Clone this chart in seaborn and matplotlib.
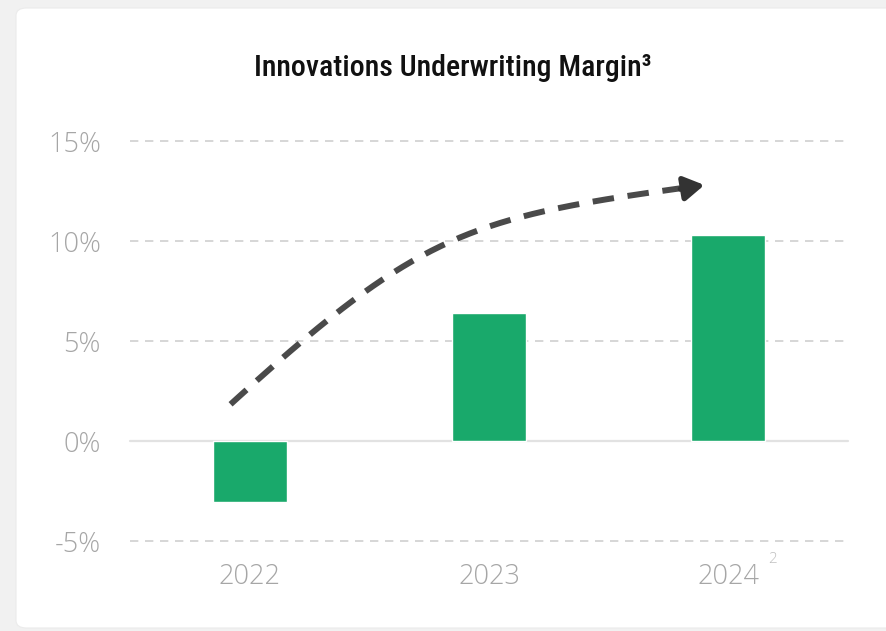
import numpy as np
import pandas as pd
import seaborn as sns
import matplotlib
matplotlib.use("Agg")
import matplotlib.pyplot as plt
from matplotlib import font_manager
from matplotlib.patches import FancyBboxPatch
from matplotlib.ticker import FixedLocator

# Underwriting margin by year (percent)
years = ["2022", "2023", "2024"]
margin = [-3.05, 6.4, 10.3]
y_ticks = [-5, 0, 5, 10, 15]
y_tick_labels = ["-5%", "0%", "5%", "10%", "15%"]
title = "Innovations Underwriting Margin\u00b3"
footnote_2024 = "2"

GREEN = "#19a96b"
LABEL_GRAY = "#a6a6a6"
GRID_GRAY = "#cfcfcf"
ARROW_GRAY = "#4a4a4a"

sns.set_theme(style="white")
available = {f.name for f in font_manager.fontManager.ttflist}
body_font = "Open Sans" if "Open Sans" in available else "DejaVu Sans"
title_font = next((f for f in ["Liberation Sans Narrow", "Roboto Condensed", "DejaVu Sans"]
                   if f in available), "DejaVu Sans")
plt.rcParams["font.family"] = [body_font, "DejaVu Sans"]

fig = plt.figure(figsize=(8.86, 6.31), dpi=100)
fig.patch.set_facecolor("#f1f1f1")

# white card behind the chart
card = FancyBboxPatch((16 / 886, 3 / 631), 1.2, 620 / 631,
                      boxstyle="round,pad=0,rounding_size=0.012",
                      transform=fig.transFigure, facecolor="white",
                      edgecolor="#ebebeb", linewidth=0.8, zorder=-10)
fig.patches.append(card)

ax = fig.add_axes([130 / 886, 1 - 541 / 631, 718 / 886, 400 / 631])
ax.set_facecolor("none")

df = pd.DataFrame({"year": years, "margin": margin})
sns.barplot(data=df, x="year", y="margin", color=GREEN, saturation=1,
            width=0.31, ax=ax, zorder=3)

ax.set_xlim(-0.5, 2.5)
ax.set_ylim(-5, 15)
ax.yaxis.set_major_locator(FixedLocator(y_ticks))
ax.set_yticklabels(y_tick_labels)

# gridlines: dashed, with a solid zero line
for t in y_ticks:
    if t == 0:
        ax.axhline(t, color="#e2e2e2", lw=1.6, zorder=2, clip_on=False)
    else:
        ax.axhline(t, color=GRID_GRAY, lw=1.2, ls=(0, (5, 4)), zorder=1, clip_on=False)

for s in ax.spines.values():
    s.set_visible(False)
ax.set_xlabel("")
ax.set_ylabel("")
ax.tick_params(axis="both", length=0, labelsize=19.5, labelcolor=LABEL_GRAY)
ax.tick_params(axis="y", pad=21)
ax.tick_params(axis="x", pad=16)
for lab in ax.get_xticklabels() + ax.get_yticklabels():
    lab.set_fontweight("light")

# footnote marker next to the 2024 label
ax.annotate(footnote_2024, xy=(2, -5), xycoords="data", xytext=(29, -13),
            textcoords="offset points", fontsize=11, color="#c0c0c0",
            ha="left", va="center", fontweight="light")

# trend arrow: cubic Bezier sketched above the bars, dashed from the tip back
ctrl = np.array([[-0.106, 1.55], [0.716, 10.55], [0.914, 11.2], [1.90, 12.8]])
t = np.linspace(0.97, 0.0, 200)[:, None]
curve = ((1 - t) ** 3 * ctrl[0] + 3 * (1 - t) ** 2 * t * ctrl[1]
         + 3 * (1 - t) * t ** 2 * ctrl[2] + t ** 3 * ctrl[3])
ax.plot(curve[:, 0], curve[:, 1], color=ARROW_GRAY, lw=4.3,
        dashes=(3.6, 2.3), solid_capstyle="butt", dash_capstyle="butt",
        zorder=5, clip_on=False)
ax.annotate("", xy=ctrl[3], xytext=(ctrl[3][0] - 0.1, ctrl[3][1] - 0.2),
            arrowprops=dict(arrowstyle="-|>,head_length=1.0,head_width=0.6",
                            color="#333333", lw=4.0, shrinkA=0, shrinkB=0),
            zorder=6)

fig.text(453 / 886, 1 - 68 / 631, title, ha="center", va="center",
         fontsize=21.5, color="#111111", weight="medium",
         family=[title_font, "DejaVu Sans"])

fig.savefig("out.png", dpi=100, facecolor=fig.get_facecolor())
